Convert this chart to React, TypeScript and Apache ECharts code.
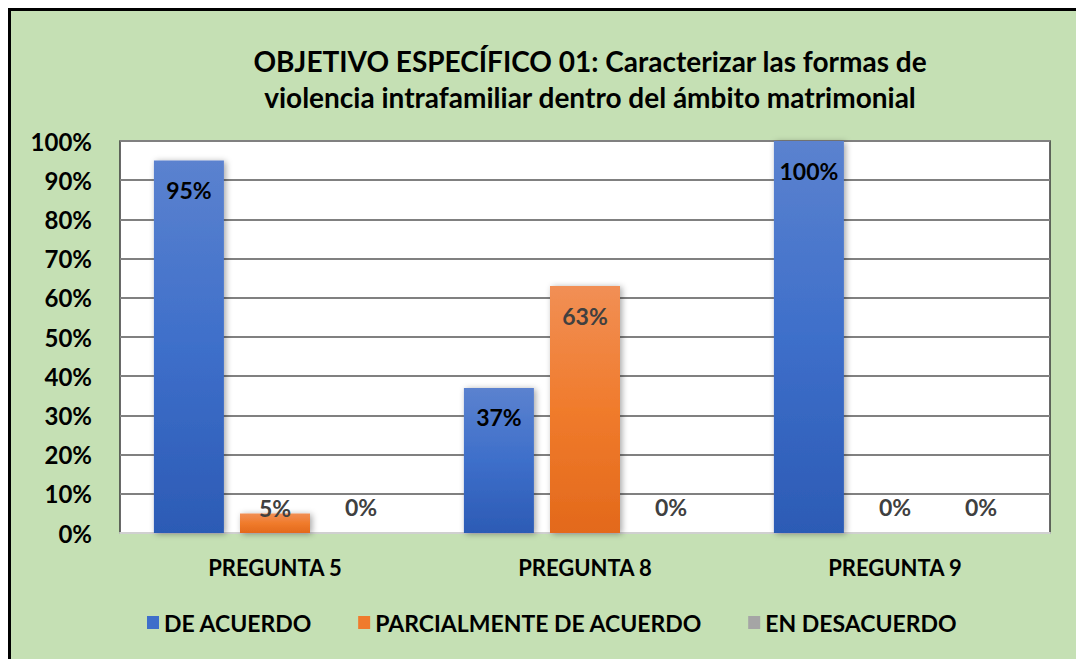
import React, { useEffect, useRef } from "react";
import * as echarts from "echarts";

const categories = ["PREGUNTA 5", "PREGUNTA 8", "PREGUNTA 9"];
const seriesNames = ["DE ACUERDO", "PARCIALMENTE DE ACUERDO", "EN DESACUERDO"];
const deAcuerdo = [95, 37, 100];
const parcialmente = [5, 63, 0];
const enDesacuerdo = [0, 0, 0];
const yTicks = [0, 10, 20, 30, 40, 50, 60, 70, 80, 90, 100];
const titleLines = [
  "OBJETIVO ESPECÍFICO 01: Caracterizar las formas de",
  "violencia intrafamiliar dentro del ámbito matrimonial",
];

const FONT = "'Lato', 'Open Sans', sans-serif";

function labelFor(v: number, color: string) {
  const base = {
    show: true,
    formatter: "{c}%",
    fontFamily: FONT,
    fontWeight: "bold" as const,
    fontSize: 23,
    color,
  };
  if (v >= 20) return { ...base, position: "insideTop", distance: 18 };
  if (v > 0) return { ...base, color: "#404040", position: "top", distance: -6 };
  return { ...base, color: "#404040", position: "top", distance: 15 };
}

export default function App() {
  const ref = useRef<HTMLDivElement>(null);
  useEffect(() => {
    if (!ref.current) return;
    const chart = echarts.init(ref.current, undefined, { renderer: "svg" });
    const blue = new echarts.graphic.LinearGradient(0, 0, 0, 1, [
      { offset: 0, color: "#5b82cf" },
      { offset: 0.5, color: "#3e6fca" },
      { offset: 1, color: "#2c5bb5" },
    ]);
    const orange = new echarts.graphic.LinearGradient(0, 0, 0, 1, [
      { offset: 0, color: "#f18f55" },
      { offset: 0.5, color: "#f07b2c" },
      { offset: 1, color: "#e3691b" },
    ]);
    const shadow = {
      shadowBlur: 6,
      shadowColor: "rgba(0,0,0,0.35)",
      shadowOffsetX: 2,
      shadowOffsetY: 1,
    };
    const mk = (name: string, data: number[], color: any, labelColor: string) => ({
      name,
      type: "bar",
      barWidth: 70,
      barGap: "23%",
      itemStyle: { color, ...shadow },
      data: data.map((v) => ({ value: v, label: labelFor(v, labelColor) })),
    });
    chart.setOption({
      animation: false,
      backgroundColor: "transparent",
      title: {
        text: titleLines.join("\n"),
        left: 585,
        top: 38,
        textAlign: "center",
        textStyle: {
          fontFamily: FONT,
          fontWeight: "bold",
          fontSize: 28,
          lineHeight: 36,
          color: "#000",
        },
      },
      legend: {
        left: 142,
        top: 606,
        itemWidth: 12,
        itemHeight: 13,
        itemGap: 46,
        icon: "rect",
        data: [
          { name: seriesNames[0], itemStyle: { color: "#3e6fca" } },
          { name: seriesNames[1], itemStyle: { color: "#f07b2c" } },
          { name: seriesNames[2], itemStyle: { color: "#a5a5a5" } },
        ],
        textStyle: {
          fontFamily: FONT,
          fontWeight: "bold",
          fontSize: 23,
          color: "#000",
        },
      },
      grid: {
        left: 120,
        top: 141,
        right: 26,
        bottom: 126,
        show: true,
        backgroundColor: "#ffffff",
        borderColor: "#3a3a3a",
        borderWidth: 1.5,
      },
      xAxis: {
        type: "category",
        data: categories,
        axisTick: { show: false },
        axisLine: { lineStyle: { color: "#d0d0d0", width: 2 } },
        axisLabel: {
          margin: 23,
          fontFamily: FONT,
          fontWeight: "bold",
          fontSize: 22,
          color: "#000",
        },
      },
      yAxis: {
        type: "value",
        min: yTicks[0],
        max: yTicks[yTicks.length - 1],
        interval: yTicks[1] - yTicks[0],
        axisLine: { show: false },
        axisTick: { show: false },
        splitLine: { lineStyle: { color: "#808080", width: 2 } },
        axisLabel: {
          margin: 28,
          formatter: "{value}%",
          fontFamily: FONT,
          fontWeight: "bold",
          fontSize: 24,
          color: "#000",
        },
      },
      series: [
        mk(seriesNames[0], deAcuerdo, blue, "#000000"),
        mk(seriesNames[1], parcialmente, orange, "#404040"),
        mk(seriesNames[2], enDesacuerdo, "#a5a5a5", "#404040"),
      ],
    });
    return () => chart.dispose();
  }, []);
  return (
    <div style={{ position: "fixed", left: 0, top: 0, width: 1076, height: 659, background: "#fff", overflow: "hidden" }}>
      <div
        style={{
          position: "absolute",
          left: 8,
          top: 8,
          width: 1100,
          height: 700,
          background: "#c5e0b4",
          borderLeft: "3px solid #000",
          borderTop: "3px solid #000",
          boxSizing: "border-box",
        }}
      />
      <div ref={ref} style={{ position: "absolute", left: 0, top: 0, width: 1076, height: 659 }} />
    </div>
  );
}
